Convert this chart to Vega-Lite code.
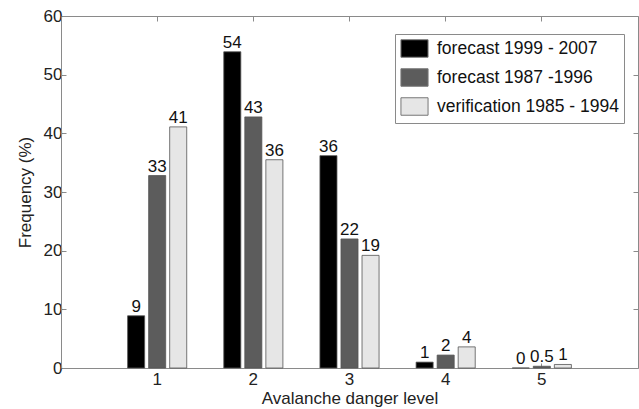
{
  "$schema": "https://vega.github.io/schema/vega-lite/v6.json",
  "width": 577,
  "height": 352,
  "autosize": {"type": "none"},
  "padding": {"left": 61, "top": 16, "right": 1, "bottom": 41},
  "background": "white",
  "config": {
    "view": {"stroke": null},
    "font": "Liberation Sans",
    "axis": {
      "domainColor": "#8a8a8a",
      "tickColor": "#8a8a8a",
      "labelColor": "#222222",
      "titleColor": "#222222",
      "labelFont": "Liberation Sans",
      "titleFont": "Liberation Sans",
      "labelFontSize": 17,
      "titleFontSize": 17,
      "titleFontWeight": "normal",
      "grid": false
    }
  },
  "data": {
    "values": [
      {"level": 1, "series": "forecast 1999 - 2007", "value": 8.9, "label": "9"},
      {"level": 1, "series": "forecast 1987 -1996", "value": 32.8, "label": "33"},
      {"level": 1, "series": "verification 1985 - 1994", "value": 41.1, "label": "41"},
      {"level": 2, "series": "forecast 1999 - 2007", "value": 53.9, "label": "54"},
      {"level": 2, "series": "forecast 1987 -1996", "value": 42.8, "label": "43"},
      {"level": 2, "series": "verification 1985 - 1994", "value": 35.5, "label": "36"},
      {"level": 3, "series": "forecast 1999 - 2007", "value": 36.2, "label": "36"},
      {"level": 3, "series": "forecast 1987 -1996", "value": 22.0, "label": "22"},
      {"level": 3, "series": "verification 1985 - 1994", "value": 19.2, "label": "19"},
      {"level": 4, "series": "forecast 1999 - 2007", "value": 1.0, "label": "1"},
      {"level": 4, "series": "forecast 1987 -1996", "value": 2.2, "label": "2"},
      {"level": 4, "series": "verification 1985 - 1994", "value": 3.6, "label": "4"},
      {"level": 5, "series": "forecast 1999 - 2007", "value": 0, "label": "0"},
      {"level": 5, "series": "forecast 1987 -1996", "value": 0.3, "label": "0.5"},
      {"level": 5, "series": "verification 1985 - 1994", "value": 0.6, "label": "1"}
    ]
  },
  "encoding": {
    "x": {
      "field": "level",
      "type": "ordinal",
      "scale": {"domain": [1, 2, 3, 4, 5], "paddingInner": 0, "paddingOuter": 0.5}
    },
    "xOffset": {
      "field": "series",
      "type": "nominal",
      "scale": {
        "domain": ["forecast 1999 - 2007", "forecast 1987 -1996", "verification 1985 - 1994"],
        "paddingInner": 0.19,
        "paddingOuter": 0.88
      }
    },
    "y": {
      "field": "value",
      "type": "quantitative",
      "scale": {"domain": [0, 60], "nice": false}
    }
  },
  "layer": [
    {
      "mark": {"type": "bar", "stroke": "#555555", "strokeWidth": 0.8},
      "encoding": {
        "x": {
          "field": "level",
          "type": "ordinal",
          "scale": {"domain": [1, 2, 3, 4, 5], "paddingInner": 0, "paddingOuter": 0.5},
          "axis": {"title": "Avalanche danger level", "labelAngle": 0, "tickSize": -5, "labelPadding": 8, "titlePadding": 3, "domainWidth": 1}
        },
        "y": {
          "field": "value",
          "type": "quantitative",
          "scale": {"domain": [0, 60], "nice": false},
          "axis": {"title": "Frequency (%)", "values": [0, 10, 20, 30, 40, 50, 60], "tickSize": -5, "labelPadding": 4, "titlePadding": 9}
        },
        "fill": {
          "field": "series",
          "type": "nominal",
          "scale": {
            "domain": ["forecast 1999 - 2007", "forecast 1987 -1996", "verification 1985 - 1994"],
            "range": ["#000000", "#5c5c5c", "#e6e6e6"]
          },
          "legend": {
            "title": null,
            "orient": "none",
            "legendX": 334,
            "legendY": 18,
            "padding": 5,
            "strokeColor": "#8a8a8a",
            "fillColor": "white",
            "labelFontSize": 17.5,
            "labelLimit": 400,
            "labelColor": "#111111",
            "labelFont": "Liberation Sans",
            "symbolType": "M-1.55,-1H1.55V1H-1.55Z",
            "symbolSize": 306,
            "symbolOffset": 5,
            "labelOffset": 13,
            "rowPadding": 6,
            "symbolStrokeColor": "#777777",
            "symbolStrokeWidth": 1,
            "symbolOpacity": 1
          }
        }
      }
    },
    {
      "mark": {"type": "text", "baseline": "alphabetic", "dy": -4, "fontSize": 17, "color": "#111111", "font": "Liberation Sans"},
      "encoding": {
        "text": {"field": "label", "type": "nominal"},
        "x": {
          "field": "level",
          "type": "ordinal",
          "scale": {"domain": [1, 2, 3, 4, 5], "paddingInner": 0, "paddingOuter": 0.5},
          "axis": {"orient": "top", "title": null, "labels": false, "tickSize": -5}
        },
        "y": {
          "field": "value",
          "type": "quantitative",
          "scale": {"domain": [0, 60], "nice": false},
          "axis": {"orient": "right", "title": null, "labels": false, "values": [0, 10, 20, 30, 40, 50, 60], "tickSize": -5}
        }
      }
    }
  ],
  "resolve": {"axis": {"x": "independent", "y": "independent"}}
}
